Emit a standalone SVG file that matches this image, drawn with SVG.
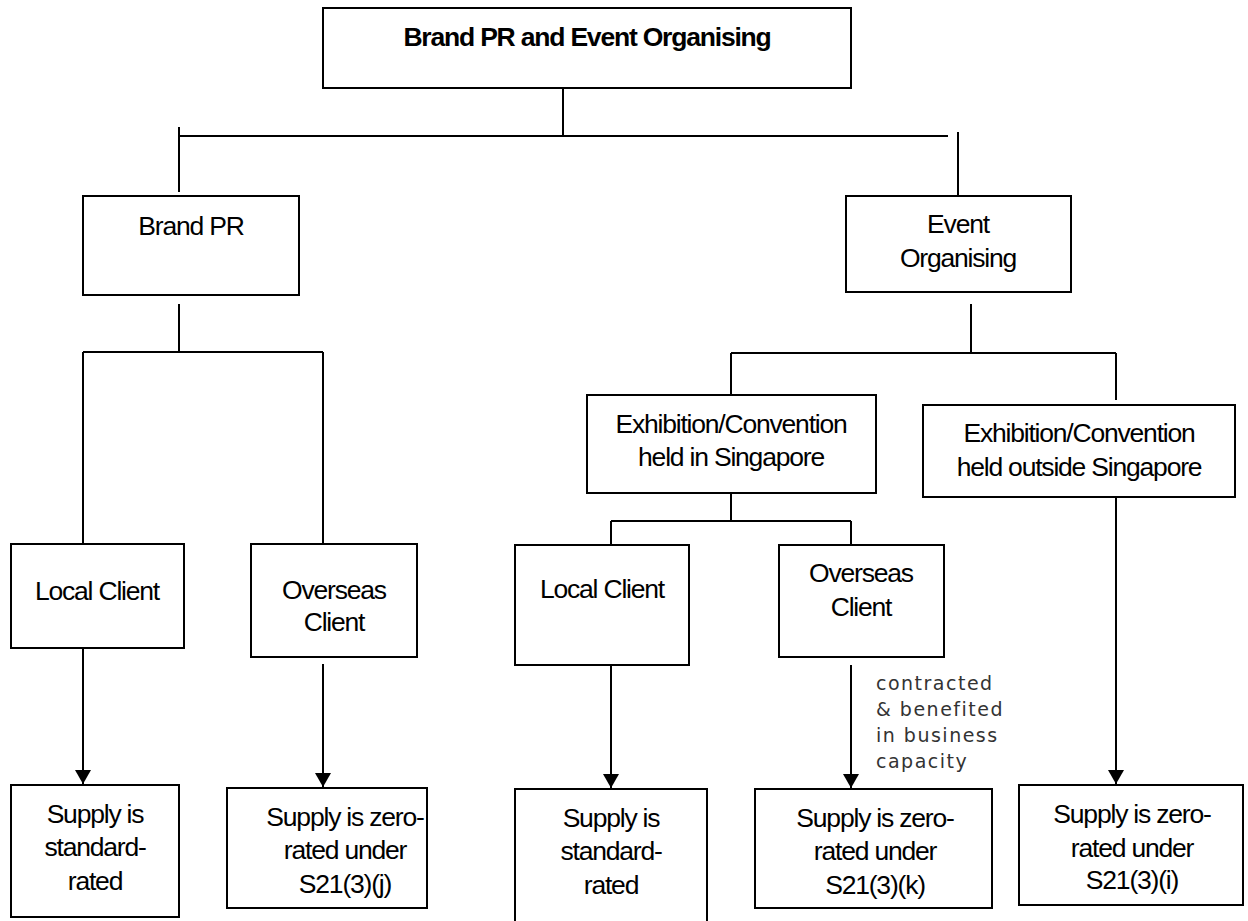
<svg xmlns="http://www.w3.org/2000/svg" width="1248" height="921" viewBox="0 0 1248 921">
<defs>
<style>
.box{fill:#fff;stroke:#000;stroke-width:2}
.t{font-family:"Liberation Sans",Arial,sans-serif;font-size:26.5px;letter-spacing:-1.2px;fill:#000;text-anchor:middle}
.tb{font-weight:bold}
.c{fill:none;stroke:#000;stroke-width:2}
.a{fill:none;stroke:#000;stroke-width:2;marker-end:url(#ah)}
.note{font-family:"DejaVu Sans",sans-serif;font-size:19px;fill:#333;letter-spacing:1.5px}
</style>
<marker id="ah" markerUnits="userSpaceOnUse" markerWidth="16" markerHeight="18" refX="14" refY="8" orient="auto">
<path d="M0,0 L14,8 L0,16 Z" fill="#000"/>
</marker>
</defs>
<rect width="1248" height="921" fill="#fff"/>
<g id="connectors">
<path class="c" d="M563,88 V136"/>
<path class="c" d="M179,136 H948"/>
<path class="c" d="M179,127 V192"/>
<path class="c" d="M958,132 V196"/>
<path class="c" d="M179,304 V352"/>
<path class="c" d="M83,352 H323"/>
<path class="c" d="M83,352 V544"/>
<path class="c" d="M323,352 V544"/>
<path class="c" d="M971,304 V353"/>
<path class="c" d="M731,353 H1116"/>
<path class="c" d="M731,353 V401"/>
<path class="c" d="M1116,353 V400"/>
<path class="c" d="M731,493 V521"/>
<path class="c" d="M611,521 H851"/>
<path class="c" d="M611,521 V545"/>
<path class="c" d="M851,521 V545"/>
<path class="a" d="M83,641 V784"/>
<path class="a" d="M323,664 V787"/>
<path class="a" d="M611,665 V788"/>
<path class="a" d="M851,665 V788"/>
<path class="a" d="M1116,497 V784"/>
</g>
<g id="root">
<rect class="box" x="323" y="8" width="528" height="80"/>
<text class="t tb" x="587" y="46">Brand PR and Event Organising</text>
</g>
<g id="brand-pr">
<rect class="box" x="83" y="196" width="216" height="99"/>
<text class="t" x="191" y="235">Brand PR</text>
</g>
<g id="event-organising">
<rect class="box" x="846" y="196" width="225" height="96"/>
<text class="t" x="958" y="233">Event</text>
<text class="t" x="958" y="267">Organising</text>
</g>
<g id="bpr-local">
<rect class="box" x="11" y="544" width="173" height="104"/>
<text class="t" x="97" y="600">Local Client</text>
</g>
<g id="bpr-overseas">
<rect class="box" x="251" y="544" width="166" height="113"/>
<text class="t" x="334" y="599">Overseas</text>
<text class="t" x="334" y="631">Client</text>
</g>
<g id="held-in-sg">
<rect class="box" x="587" y="395" width="289" height="98"/>
<text class="t" x="731" y="433">Exhibition/Convention</text>
<text class="t" x="731" y="466">held in Singapore</text>
</g>
<g id="held-outside-sg">
<rect class="box" x="923" y="405" width="312" height="92"/>
<text class="t" x="1079" y="442">Exhibition/Convention</text>
<text class="t" x="1079" y="476">held outside Singapore</text>
</g>
<g id="eo-local">
<rect class="box" x="515" y="545" width="174" height="120"/>
<text class="t" x="602" y="598">Local Client</text>
</g>
<g id="eo-overseas">
<rect class="box" x="779" y="545" width="165" height="112"/>
<text class="t" x="861" y="582">Overseas</text>
<text class="t" x="861" y="616">Client</text>
</g>
<g id="note">
<text class="note" x="876" y="690">contracted</text>
<text class="note" x="876" y="716">&amp; benefited</text>
<text class="note" x="876" y="742">in business</text>
<text class="note" x="876" y="768">capacity</text>
</g>
<g id="bpr-local-result">
<rect class="box" x="11" y="785" width="168" height="132"/>
<text class="t" x="95" y="823">Supply is</text>
<text class="t" x="95" y="856">standard-</text>
<text class="t" x="95" y="890">rated</text>
</g>
<g id="bpr-overseas-result">
<rect class="box" x="227" y="788" width="200" height="120"/>
<text class="t" x="345" y="826">Supply is zero-</text>
<text class="t" x="345" y="859">rated under</text>
<text class="t" x="345" y="893">S21(3)(j)</text>
</g>
<g id="eo-local-result">
<rect class="box" x="515" y="789" width="192" height="140"/>
<text class="t" x="611" y="827">Supply is</text>
<text class="t" x="611" y="860">standard-</text>
<text class="t" x="611" y="894">rated</text>
</g>
<g id="eo-overseas-result">
<rect class="box" x="755" y="789" width="237" height="119"/>
<text class="t" x="875" y="827">Supply is zero-</text>
<text class="t" x="875" y="860">rated under</text>
<text class="t" x="875" y="894">S21(3)(k)</text>
</g>
<g id="outside-result">
<rect class="box" x="1019" y="785" width="224" height="120"/>
<text class="t" x="1132" y="823">Supply is zero-</text>
<text class="t" x="1132" y="857">rated under</text>
<text class="t" x="1132" y="889">S21(3)(i)</text>
</g>
</svg>
